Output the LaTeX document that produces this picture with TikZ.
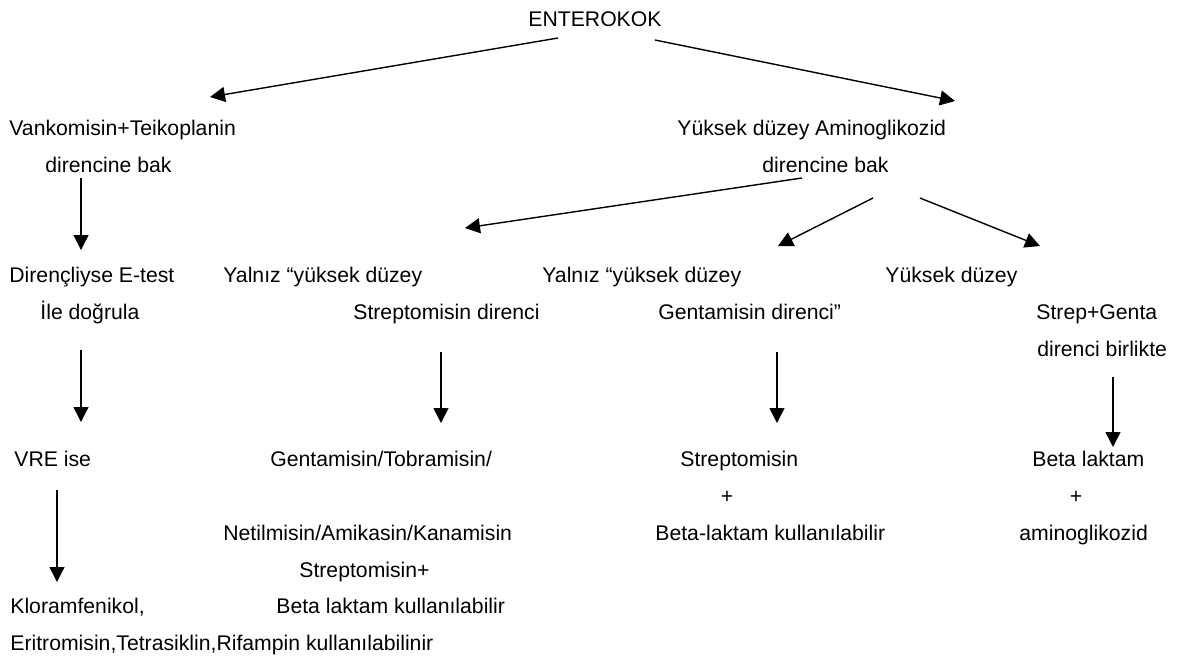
\documentclass[tikz,border=0pt]{standalone}
\usepackage{fontspec}
\setmainfont{Liberation Sans}
\usetikzlibrary{arrows.meta}
\begin{document}
\begin{tikzpicture}[x=0.5pt,y=-0.5pt,
  lbl/.style={anchor=base west, inner sep=0pt, font=\fontsize{10.6pt}{12pt}\selectfont},
  lblc/.style={lbl, anchor=base},
  arr/.style={-{Triangle[length=7.5pt,width=7.5pt]}, line width=0.7pt}]
\useasboundingbox (0,0) rectangle (1179,655);
% nodes
\node[lbl] (ent) at (528,26) {ENTEROKOK};
\node[lbl] (van) at (9,135) {Vankomisin+Teikoplanin};
\node[lbl] (vanb) at (45,172) {direncine bak};
\node[lbl] (amg) at (677,135) {Yüksek düzey Aminoglikozid};
\node[lbl] (amgb) at (762,172) {direncine bak};
\node[lbl] (dir1) at (9,282) {Dirençliyse E-test};
\node[lbl] (dir2) at (40,319) {İle doğrula};
\node[lbl] (s1) at (223,282) {Yalnız “yüksek düzey};
\node[lbl] (s2) at (353,319) {Streptomisin direnci};
\node[lbl] (g1) at (542,282) {Yalnız “yüksek düzey};
\node[lbl] (g2) at (658,319) {Gentamisin direnci”};
\node[lbl] (h1) at (885,282) {Yüksek düzey};
\node[lbl] (h2) at (1036,319) {Strep+Genta};
\node[lbl] (h3) at (1037,356) {direnci birlikte};
\node[lbl] (vre) at (14,466) {VRE ise};
\node[lbl] (klo) at (10,613) {Kloramfenikol,};
\node[lbl] (eri) at (10,650) {Eritromisin,Tetrasiklin,Rifampin kullanılabilinir};
\node[lbl] (gt) at (270,466) {Gentamisin/Tobramisin/};
\node[lbl] (net) at (223,540) {Netilmisin/Amikasin/Kanamisin};
\node[lbl] (stp) at (299,577) {Streptomisin+};
\node[lbl] (blk) at (276,613) {Beta laktam kullanılabilir};
\node[lbl] (str) at (680,466) {Streptomisin};
\node[lblc] (pl1) at (727,503) {+};
\node[lbl] (bl2) at (655,540) {Beta-laktam kullanılabilir};
\node[lbl] (bet) at (1032,466) {Beta laktam};
\node[lblc] (pl2) at (1076,503) {+};
\node[lbl] (ami) at (1019,540) {aminoglikozid};
% connectors
\draw[arr] ([shift={(30,12)}]ent.base west) -- ([shift={(201,-38)}]van.base west);
\draw[arr] ([shift={(127,14)}]ent.base west) -- ([shift={(278,-34)}]amg.base west);
\draw[arr] ([shift={(36,6)}]vanb.base west) -- ([shift={(72,-32)}]dir1.base west);
\draw[arr] ([shift={(41,31)}]dir2.base west) -- ([shift={(67,-44)}]vre.base west);
\draw[arr] ([shift={(43,24)}]vre.base west) -- ([shift={(47,-31)}]klo.base west);
\draw[arr] ([shift={(40,6)}]amgb.base west) -- ([shift={(242,-54)}]s1.base west);
\draw[arr] ([shift={(111,26)}]amgb.base west) -- ([shift={(236,-36)}]g1.base west);
\draw[arr] ([shift={(158,26)}]amgb.base west) -- ([shift={(155,-36)}]h1.base west);
\draw[arr] ([shift={(88,33)}]s2.base west) -- ([shift={(171,-43)}]gt.base west);
\draw[arr] ([shift={(119,33)}]g2.base west) -- ([shift={(97,-43)}]str.base west);
\draw[arr] ([shift={(76,21)}]h3.base west) -- ([shift={(81,-19)}]bet.base west);
\end{tikzpicture}
\end{document}
